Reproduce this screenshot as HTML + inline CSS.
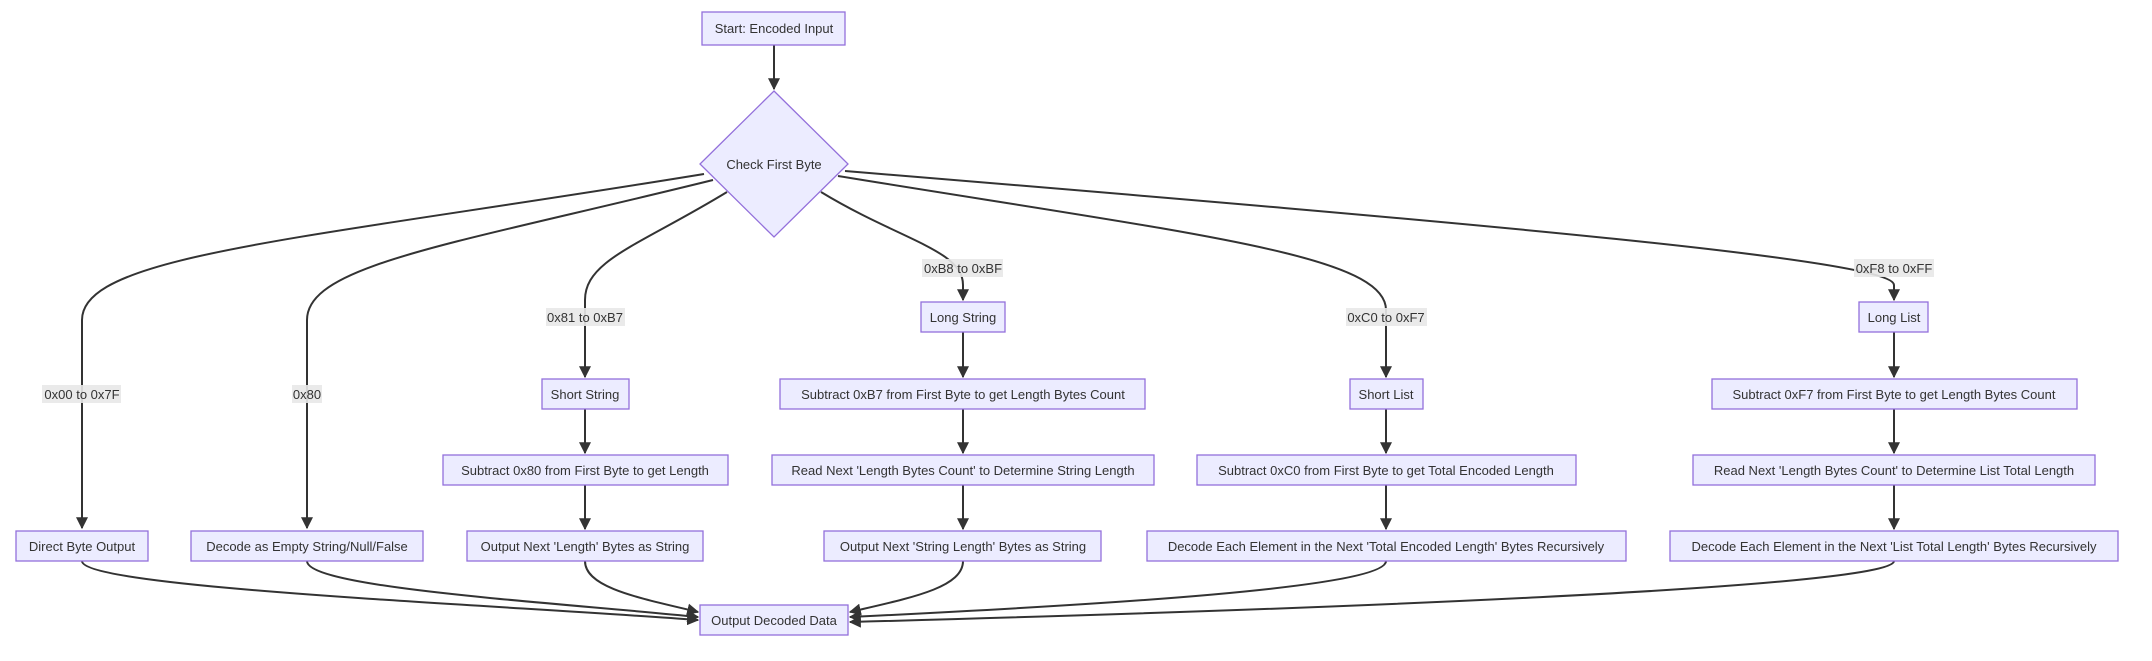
<!DOCTYPE html>
<html><head><meta charset="utf-8"><style>
html,body{margin:0;padding:0;background:#fff;}
svg{display:block;}
text{font-family:"Liberation Sans",sans-serif;font-size:13px;fill:#333;}
.n{fill:#ECECFF;stroke:#9370DB;stroke-width:1.3;}
.e{fill:none;stroke:#333;stroke-width:2;}
.lb{fill:#e8e8e8;opacity:0.9;}
</style></head><body>
<svg width="2152" height="661" viewBox="0 0 2152 661" xmlns="http://www.w3.org/2000/svg">
<defs><marker id="a" viewBox="0 0 10 10" refX="9" refY="5" markerWidth="6" markerHeight="6" orient="auto"><path d="M0,0L10,5L0,10z" fill="#333"/></marker></defs>

<g class="e" marker-end="url(#a)">
<path d="M774,45V89"/>
<path d="M704,174 C 300,240 82,255 82,320 V528"/>
<path d="M713,180 C 450,245 307,265 307,320 V528"/>
<path d="M727,192 C 640,245 585,260 585,300 V377"/>
<path d="M821,192 C 900,240 963,250 963,285 V300"/>
<path d="M838,176 C 1200,235 1386,255 1386,310 V377"/>
<path d="M845,171 C 1500,225 1894,260 1894,285 V300"/>
<path d="M963,332V377"/><path d="M1894,332V377"/>
<path d="M585,409V453"/><path d="M963,409V453"/><path d="M1386,409V453"/><path d="M1894,409V453"/>
<path d="M585,485V529"/><path d="M963,485V529"/><path d="M1386,485V529"/><path d="M1894,485V529"/>
<path d="M82,561 C 82,588 500,605 698,620"/>
<path d="M307,561 C 307,588 550,602 698,617"/>
<path d="M585,561 C 585,588 640,598 698,612"/>
<path d="M963,561 C 963,588 910,598 850,612"/>
<path d="M1386,561 C 1386,588 1100,605 850,617"/>
<path d="M1894,561 C 1894,588 1300,610 850,622"/>
</g>

<rect class="lb" x="42" y="385" width="79" height="18"/><text x="82" y="399" text-anchor="middle">0x00 to 0x7F</text>
<rect class="lb" x="292" y="385" width="30" height="18"/><text x="307" y="399" text-anchor="middle">0x80</text>
<rect class="lb" x="546" y="308" width="79" height="18"/><text x="585" y="322" text-anchor="middle">0x81 to 0xB7</text>
<rect class="lb" x="922" y="259" width="81" height="18"/><text x="963" y="273" text-anchor="middle">0xB8 to 0xBF</text>
<rect class="lb" x="1346" y="308" width="81" height="18"/><text x="1386" y="322" text-anchor="middle">0xC0 to 0xF7</text>
<rect class="lb" x="1854" y="259" width="80" height="18"/><text x="1894" y="273" text-anchor="middle">0xF8 to 0xFF</text>

<rect class="n" x="702" y="12" width="143" height="33"/><text x="774" y="33" text-anchor="middle">Start: Encoded Input</text>
<polygon class="n" points="774,91 848,164 774,237 700,164"/><text x="774" y="169" text-anchor="middle">Check First Byte</text>

<rect class="n" x="921" y="302" width="84" height="30"/><text x="963" y="322" text-anchor="middle">Long String</text>
<rect class="n" x="1859" y="302" width="69" height="30"/><text x="1894" y="322" text-anchor="middle">Long List</text>

<rect class="n" x="542" y="379" width="87" height="30"/><text x="585" y="399" text-anchor="middle">Short String</text>
<rect class="n" x="780" y="379" width="365" height="30"/><text x="963" y="399" text-anchor="middle">Subtract 0xB7 from First Byte to get Length Bytes Count</text>
<rect class="n" x="1350" y="379" width="73" height="30"/><text x="1386" y="399" text-anchor="middle">Short List</text>
<rect class="n" x="1712" y="379" width="365" height="30"/><text x="1894" y="399" text-anchor="middle">Subtract 0xF7 from First Byte to get Length Bytes Count</text>

<rect class="n" x="443" y="455" width="285" height="30"/><text x="585" y="475" text-anchor="middle">Subtract 0x80 from First Byte to get Length</text>
<rect class="n" x="772" y="455" width="382" height="30"/><text x="963" y="475" text-anchor="middle">Read Next 'Length Bytes Count' to Determine String Length</text>
<rect class="n" x="1197" y="455" width="379" height="30"/><text x="1386" y="475" text-anchor="middle">Subtract 0xC0 from First Byte to get Total Encoded Length</text>
<rect class="n" x="1693" y="455" width="402" height="30"/><text x="1894" y="475" text-anchor="middle">Read Next 'Length Bytes Count' to Determine List Total Length</text>

<rect class="n" x="16" y="531" width="132" height="30"/><text x="82" y="551" text-anchor="middle">Direct Byte Output</text>
<rect class="n" x="191" y="531" width="232" height="30"/><text x="307" y="551" text-anchor="middle">Decode as Empty String/Null/False</text>
<rect class="n" x="467" y="531" width="236" height="30"/><text x="585" y="551" text-anchor="middle">Output Next 'Length' Bytes as String</text>
<rect class="n" x="824" y="531" width="277" height="30"/><text x="963" y="551" text-anchor="middle">Output Next 'String Length' Bytes as String</text>
<rect class="n" x="1147" y="531" width="479" height="30"/><text x="1386" y="551" text-anchor="middle">Decode Each Element in the Next 'Total Encoded Length' Bytes Recursively</text>
<rect class="n" x="1670" y="531" width="448" height="30"/><text x="1894" y="551" text-anchor="middle">Decode Each Element in the Next 'List Total Length' Bytes Recursively</text>

<rect class="n" x="700" y="605" width="148" height="30"/><text x="774" y="625" text-anchor="middle">Output Decoded Data</text>
</svg>
</body></html>
